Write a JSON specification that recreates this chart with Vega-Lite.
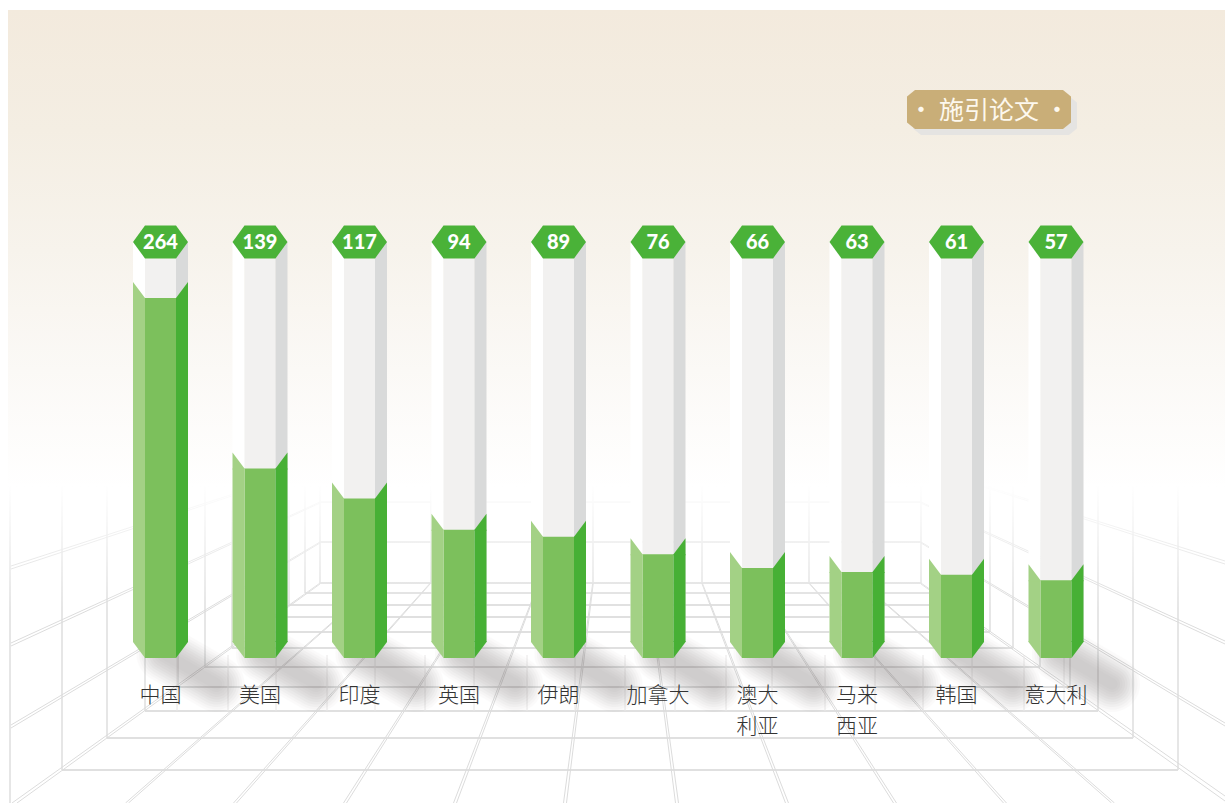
{"$schema":"https://vega.github.io/schema/vega-lite/v6.json","width":1225,"height":803,"padding":0,"autosize":"none","background":"#ffffff","config":{"view":{"stroke":null},"axis":{"disable":true}},
"datasets":{
"one":[{"row":1}],
"countries":[{"country":"中国","papers":264},{"country":"美国","papers":139},{"country":"印度","papers":117},{"country":"英国","papers":94},{"country":"伊朗","papers":89},{"country":"加拿大","papers":76},{"country":"澳大\n利亚","papers":66},{"country":"马来\n西亚","papers":63},{"country":"韩国","papers":61},{"country":"意大利","papers":57}],
"floor":[{"xa":320,"ya":583,"xb":921,"yb":583},{"xa":305,"ya":593,"xb":935,"yb":593},{"xa":289,"ya":605,"xb":952,"yb":605},{"xa":272,"ya":617,"xb":969,"yb":617},{"xa":258,"ya":632,"xb":990,"yb":632},{"xa":232,"ya":648,"xb":1013,"yb":648},{"xa":205,"ya":667,"xb":1040,"yb":667},{"xa":178,"ya":687,"xb":1070,"yb":687},{"xa":145,"ya":711,"xb":1098,"yb":711},{"xa":107,"ya":738,"xb":1133,"yb":738},{"xa":62,"ya":770,"xb":1178,"yb":770},{"xa":320,"ya":502,"xb":921,"yb":502},{"xa":320,"ya":542,"xb":921,"yb":542}],
"walls":[{"xa":10,"ya":486,"xb":10,"yb":803},{"xa":62,"ya":486,"xb":62,"yb":770},{"xa":107,"ya":486,"xb":107,"yb":738},{"xa":145,"ya":486,"xb":145,"yb":711},{"xa":178,"ya":486,"xb":178,"yb":687},{"xa":205,"ya":486,"xb":205,"yb":667},{"xa":232,"ya":486,"xb":232,"yb":648},{"xa":258,"ya":486,"xb":258,"yb":632},{"xa":272,"ya":486,"xb":272,"yb":617},{"xa":289,"ya":486,"xb":289,"yb":605},{"xa":305,"ya":486,"xb":305,"yb":593},{"xa":320,"ya":486,"xb":320,"yb":583},{"xa":377.5,"ya":486,"xb":377.5,"yb":583},{"xa":431,"ya":486,"xb":431,"yb":583},{"xa":485,"ya":486,"xb":485,"yb":583},{"xa":539,"ya":486,"xb":539,"yb":583},{"xa":593,"ya":486,"xb":593,"yb":583},{"xa":648,"ya":486,"xb":648,"yb":583},{"xa":702,"ya":486,"xb":702,"yb":583},{"xa":755,"ya":486,"xb":755,"yb":583},{"xa":809,"ya":486,"xb":809,"yb":583},{"xa":862,"ya":486,"xb":862,"yb":583},{"xa":921,"ya":486,"xb":921,"yb":583},{"xa":935,"ya":486,"xb":935,"yb":593},{"xa":952,"ya":486,"xb":952,"yb":605},{"xa":969,"ya":486,"xb":969,"yb":617},{"xa":990,"ya":486,"xb":990,"yb":632},{"xa":1013,"ya":486,"xb":1013,"yb":648},{"xa":1040,"ya":486,"xb":1040,"yb":667},{"xa":1070,"ya":486,"xb":1070,"yb":687},{"xa":1098,"ya":486,"xb":1098,"yb":711},{"xa":1133,"ya":486,"xb":1133,"yb":738},{"xa":1178,"ya":486,"xb":1178,"yb":770}],
"diagonals":[{"xa":11,"ya":566,"xb":258,"yb":486},{"xa":11,"ya":569,"xb":262,"yb":486},{"xa":11,"ya":643,"xb":320,"yb":502},{"xa":11,"ya":646,"xb":320,"yb":503},{"xa":11,"ya":725,"xb":320,"yb":542},{"xa":11,"ya":728,"xb":320,"yb":543},{"xa":985,"ya":486,"xb":1225,"yb":561},{"xa":981,"ya":486,"xb":1225,"yb":564},{"xa":921,"ya":502,"xb":1225,"yb":641},{"xa":921,"ya":503,"xb":1225,"yb":644},{"xa":921,"ya":542,"xb":1225,"yb":723},{"xa":921,"ya":543,"xb":1225,"yb":726},{"xa":320,"ya":583,"xb":12,"yb":803},{"xa":320,"ya":584,"xb":17,"yb":803},{"xa":921,"ya":583,"xb":1225,"yb":796},{"xa":921,"ya":584,"xb":1225,"yb":801}],
"radials":[{"xa":377.2,"ya":583,"xb":125.5,"yb":803},{"xa":377.8,"ya":583,"xb":128.5,"yb":803},{"xa":430.3,"ya":583,"xb":233.5,"yb":803},{"xa":430.9,"ya":583,"xb":236.5,"yb":803},{"xa":484.4,"ya":583,"xb":343.5,"yb":803},{"xa":485,"ya":583,"xb":346.5,"yb":803},{"xa":538.5,"ya":583,"xb":453.5,"yb":803},{"xa":539.1,"ya":583,"xb":456.5,"yb":803},{"xa":592.7,"ya":583,"xb":563.5,"yb":803},{"xa":593.3,"ya":583,"xb":566.5,"yb":803},{"xa":647.7,"ya":583,"xb":675.5,"yb":803},{"xa":648.3,"ya":583,"xb":678.5,"yb":803},{"xa":701.7,"ya":583,"xb":785.5,"yb":803},{"xa":702.3,"ya":583,"xb":788.5,"yb":803},{"xa":754.7,"ya":583,"xb":893.5,"yb":803},{"xa":755.3,"ya":583,"xb":896.5,"yb":803},{"xa":808.7,"ya":583,"xb":1003.5,"yb":803},{"xa":809.3,"ya":583,"xb":1006.5,"yb":803},{"xa":861.7,"ya":583,"xb":1111.5,"yb":803},{"xa":862.3,"ya":583,"xb":1114.5,"yb":803}],
"ticks":[{"xa":177,"ya":655,"xb":177,"yb":711},{"xa":228,"ya":655,"xb":228,"yb":711},{"xa":276,"ya":655,"xb":276,"yb":711},{"xa":327,"ya":655,"xb":327,"yb":711},{"xa":375,"ya":655,"xb":375,"yb":711},{"xa":425,"ya":655,"xb":425,"yb":711},{"xa":474,"ya":655,"xb":474,"yb":711},{"xa":527,"ya":655,"xb":527,"yb":711},{"xa":575,"ya":655,"xb":575,"yb":711},{"xa":625,"ya":655,"xb":625,"yb":711},{"xa":675,"ya":655,"xb":675,"yb":711},{"xa":726,"ya":655,"xb":726,"yb":711},{"xa":772,"ya":655,"xb":772,"yb":711},{"xa":825,"ya":655,"xb":825,"yb":711},{"xa":875,"ya":655,"xb":875,"yb":711},{"xa":923,"ya":655,"xb":923,"yb":711},{"xa":972,"ya":655,"xb":972,"yb":711},{"xa":1024,"ya":655,"xb":1024,"yb":711},{"xa":1064,"ya":655,"xb":1064,"yb":711}]
},
"layer":[
{"layer":[
{"data":{"name":"one"},"mark":{"type":"rect","fill":{"gradient":"linear","x1":0,"y1":0,"x2":0,"y2":1,"stops":[{"offset":0,"color":"#f3eadd"},{"offset":0.25,"color":"#f4eee3"},{"offset":0.5,"color":"#f7f3ec"},{"offset":0.75,"color":"#fbf9f6"},{"offset":1,"color":"#ffffff"}]}},
"encoding":{"x":{"datum":8,"type":"quantitative","scale":{"domain":[0,1225],"nice":false,"zero":false}},"x2":{"datum":1225},"y":{"datum":10,"type":"quantitative","scale":{"domain":[0,803],"reverse":true,"nice":false,"zero":false}},"y2":{"datum":490}}},
{"data":{"name":"walls"},"mark":{"type":"rule","stroke":"#dedede","strokeWidth":1.5},"encoding":{"x":{"field":"xa","type":"quantitative"},"y":{"field":"ya","type":"quantitative"},"x2":{"field":"xb"},"y2":{"field":"yb"}}},
{"data":{"name":"floor"},"mark":{"type":"rule","stroke":"#e0e0e0","strokeWidth":1.8},"encoding":{"x":{"field":"xa","type":"quantitative"},"y":{"field":"ya","type":"quantitative"},"x2":{"field":"xb"},"y2":{"field":"yb"}}},
{"data":{"name":"diagonals"},"mark":{"type":"rule","stroke":"#dcdcdc","strokeWidth":1},"encoding":{"x":{"field":"xa","type":"quantitative"},"y":{"field":"ya","type":"quantitative"},"x2":{"field":"xb"},"y2":{"field":"yb"}}},
{"data":{"name":"radials"},"mark":{"type":"rule","stroke":"#dcdcdc","strokeWidth":1},"encoding":{"x":{"field":"xa","type":"quantitative"},"y":{"field":"ya","type":"quantitative"},"x2":{"field":"xb"},"y2":{"field":"yb"}}},
{"data":{"name":"ticks"},"mark":{"type":"rule","stroke":"#e8e6e6","strokeWidth":1},"encoding":{"x":{"field":"xa","type":"quantitative"},"y":{"field":"ya","type":"quantitative"},"x2":{"field":"xb"},"y2":{"field":"yb"}}},
{"data":{"name":"one"},"mark":{"type":"rect","fill":{"gradient":"linear","x1":0,"y1":0,"x2":0,"y2":1,"stops":[{"offset":0,"color":"rgba(255,255,255,1)"},{"offset":1,"color":"rgba(255,255,255,0)"}]}},
"encoding":{"x":{"datum":8,"type":"quantitative"},"x2":{"datum":1225},"y":{"datum":484,"type":"quantitative"},"y2":{"datum":610}}},
{"data":{"name":"one"},"mark":{"type":"point","shape":"M-74,-19.5 L74,-19.5 L82,-13 L82,13 L74,19.5 L-74,19.5 L-82,13 L-82,-13 Z","size":4,"filled":true,"fill":"#e5e4e2","opacity":1,"stroke":null,"xOffset":6,"yOffset":6},"encoding":{"x":{"datum":989,"type":"quantitative"},"y":{"datum":109.5,"type":"quantitative"}}},
{"data":{"name":"one"},"mark":{"type":"point","shape":"M-74,-19.5 L74,-19.5 L82,-13 L82,13 L74,19.5 L-74,19.5 L-82,13 L-82,-13 Z","size":4,"filled":true,"fill":"#c9ae78","opacity":1,"stroke":null},"encoding":{"x":{"datum":989,"type":"quantitative"},"y":{"datum":109.5,"type":"quantitative"}}},
{"data":{"name":"one"},"mark":{"type":"text","text":"· 施引论文 ·","font":"Noto Sans CJK SC","fontSize":25,"fontWeight":400,"fill":"#fdf8ee","align":"center","baseline":"middle"},"encoding":{"x":{"datum":989,"type":"quantitative"},"y":{"datum":110.5,"type":"quantitative"}}}
]},
{"data":{"name":"countries"},
"encoding":{"x":{"field":"country","type":"nominal","sort":null,"scale":{"type":"point","range":[160.5,1056],"padding":0}},"y":{"field":"papers","type":"quantitative","scale":{"domain":[-106.33,482.53],"nice":false,"zero":false}}},
"layer":[
{"mark":{"type":"point","shape":"M4,-4 L56,26","size":4,"filled":false,"stroke":"#5a5050","strokeCap":"round","strokeWidth":56,"opacity":0.02},"encoding":{"y":{"datum":0}}},
{"mark":{"type":"point","shape":"M4,-4 L56,26","size":4,"filled":false,"stroke":"#5a5050","strokeCap":"round","strokeWidth":51,"opacity":0.025},"encoding":{"y":{"datum":0}}},
{"mark":{"type":"point","shape":"M4,-4 L56,26","size":4,"filled":false,"stroke":"#5a5050","strokeCap":"round","strokeWidth":46,"opacity":0.03},"encoding":{"y":{"datum":0}}},
{"mark":{"type":"point","shape":"M4,-4 L56,26","size":4,"filled":false,"stroke":"#5a5050","strokeCap":"round","strokeWidth":41,"opacity":0.03},"encoding":{"y":{"datum":0}}},
{"mark":{"type":"point","shape":"M4,-4 L56,26","size":4,"filled":false,"stroke":"#5a5050","strokeCap":"round","strokeWidth":36,"opacity":0.03},"encoding":{"y":{"datum":0}}},
{"mark":{"type":"point","shape":"M4,-4 L56,26","size":4,"filled":false,"stroke":"#5a5050","strokeCap":"round","strokeWidth":31,"opacity":0.03},"encoding":{"y":{"datum":0}}},
{"mark":{"type":"point","shape":"M4,-4 L56,26","size":4,"filled":false,"stroke":"#5a5050","strokeCap":"round","strokeWidth":26,"opacity":0.03},"encoding":{"y":{"datum":0}}},
{"mark":{"type":"point","shape":"M4,-4 L56,26","size":4,"filled":false,"stroke":"#5a5050","strokeCap":"round","strokeWidth":21,"opacity":0.025},"encoding":{"y":{"datum":0}}},
{"mark":{"type":"point","shape":"M4,-4 L56,26","size":4,"filled":false,"stroke":"#5a5050","strokeCap":"round","strokeWidth":16,"opacity":0.025},"encoding":{"y":{"datum":0}}},
{"mark":{"type":"point","shape":"M4,-4 L56,26","size":4,"filled":false,"stroke":"#5a5050","strokeCap":"round","strokeWidth":11,"opacity":0.02},"encoding":{"y":{"datum":0}}},
{"mark":{"type":"bar","width":12,"xOffset":-21.5,"fill":"#ffffff"},"encoding":{"y":{"datum":305.1},"y2":{"datum":11.73}}},
{"mark":{"type":"bar","width":31,"fill":"#f2f1f0"},"encoding":{"y":{"datum":292.6},"y2":{"datum":0}}},
{"mark":{"type":"bar","width":12,"xOffset":21.5,"fill":"#d9dada"},"encoding":{"y":{"datum":305.1},"y2":{"datum":11.73}}},
{"mark":{"type":"bar","width":31,"fill":"#7cc05c"},"encoding":{"y2":{"datum":0}}},
{"mark":{"type":"bar","width":12,"xOffset":-21.5,"fill":"#a3d185"},"encoding":{"y2":{"datum":11.73}}},
{"mark":{"type":"bar","width":12,"xOffset":21.5,"fill":"#47b035"},"encoding":{"y2":{"datum":11.73}}},
{"mark":{"type":"point","shape":"M-27.5,-16 L-15.5,0 L-15.5,1 L-27.5,1 Z","size":4,"filled":true,"fill":"#a3d185","opacity":1,"stroke":null}},
{"mark":{"type":"point","shape":"M27.5,-16 L15.5,0 L15.5,1 L27.5,1 Z","size":4,"filled":true,"fill":"#47b035","opacity":1,"stroke":null}},
{"mark":{"type":"point","shape":"M-27.5,-17 L-15.5,-17 L-15.5,0 L-27.5,-16 Z","size":4,"filled":true,"fill":"#a3d185","opacity":1,"stroke":null},"encoding":{"y":{"datum":0}}},
{"mark":{"type":"point","shape":"M27.5,-17 L15.5,-17 L15.5,0 L27.5,-16 Z","size":4,"filled":true,"fill":"#47b035","opacity":1,"stroke":null},"encoding":{"y":{"datum":0}}},
{"mark":{"type":"point","shape":"M-27.5,0 L-15.5,-16.5 L15.5,-16.5 L27.5,0 L15.5,16.5 L-15.5,16.5 Z","size":4,"filled":true,"fill":"#4ab238","opacity":1,"stroke":null},"encoding":{"y":{"datum":305.1}}},
{"mark":{"type":"text","font":"Lato","fontSize":20,"fontWeight":900,"fill":"#ffffff","align":"center","baseline":"middle"},"encoding":{"y":{"datum":304.5},"text":{"field":"papers","type":"quantitative"}}},
{"mark":{"type":"text","font":"Noto Sans CJK SC","fontSize":21,"fontWeight":300,"fill":"#333333","align":"center","baseline":"top","lineBreak":"\n","lineHeight":31},"encoding":{"y":{"datum":-19.5},"text":{"field":"country","type":"nominal"}}}
]}
],
"resolve":{"scale":{"x":"independent","y":"independent"}}}
